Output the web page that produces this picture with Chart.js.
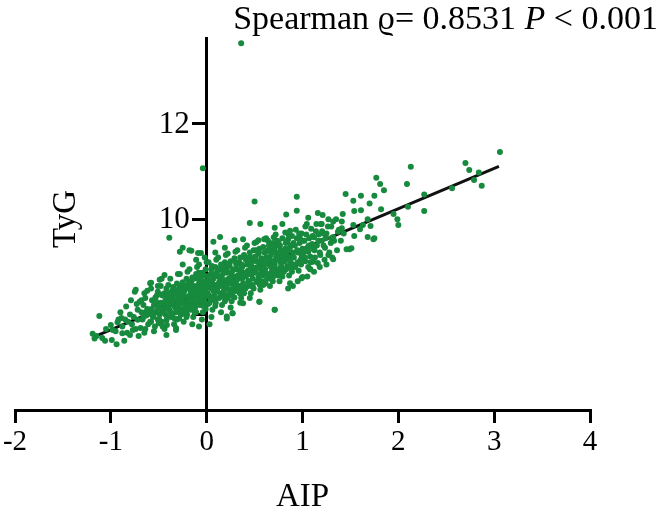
<!DOCTYPE html>
<html><head><meta charset="utf-8">
<script src="https://cdn.jsdelivr.net/npm/chart.js@4"></script>
<style>html,body{margin:0;padding:0;background:#fff}#wrap{width:663px;height:514px}</style>
</head><body><div id="wrap"><canvas id="c" width="663" height="514"></canvas></div>
<script>
const xTickValues = [-2, -1, 0, 1, 2, 3, 4];
const yTickValues = [8, 10, 12];
const yTickLabels = ['', '10', '12'];
const xAxisTitle = 'AIP';
const yAxisTitle = 'TyG';
const statSegments = [['Spearman ', false], ['ϱ', false], ['= 0.8531 ', false], ['P', true], [' < 0.001', false]];
const fitAip = [-1.17, 3.05];
const fitTyg = [7.54, 11.11];
const aipTygPairs = [
[-1.19,7.6],[-1.17,7.5],[-1.15,7.55],[-1.12,7.97],[-1.09,7.51],[-0.99,7.47],[-0.94,7.38],[-0.98,7.68],[-0.93,7.84],[-0.89,7.93],[-0.88,7.61],[-0.84,8.17],[-0.80,7.57],[-0.77,7.68],[-0.75,8.48],[-0.72,7.89],[-0.70,8.27],[-0.65,8.45],[-0.63,8.06],[-0.59,8.66],[-0.58,7.85],[-0.53,8.24],[-0.51,8.48],[-0.49,8.73],[-0.46,7.75],[-0.44,8.83],[-0.42,7.57],[-0.32,7.68],[-0.28,9.32],[-0.25,9.40],[-0.18,9.35],[-0.09,9.29],[-0.39,9.61],[-0.16,9.34],[-0.06,9.29],[-0.74,8.52],[-0.58,8.67],[-0.47,8.75],
[-1.05,7.7],[-1.0,7.78],[-0.95,7.65],[-0.92,7.9],[-1.06,7.45],
[-0.88,7.75],[-0.85,7.9],[-0.83,7.62],[-0.8,8.0],[-0.78,7.8],[-0.76,7.95],[-0.74,7.7],[-0.72,8.1],[-0.71,7.55],[-0.86,7.45],[-0.79,8.3],[-0.73,8.22],[-0.9,8.05],[-0.82,7.85],
[-0.69,7.72],[-0.68,8.05],[-0.67,7.9],[-0.66,8.2],[-0.65,7.62],[-0.64,8.35],[-0.63,7.98],[-0.62,8.12],[-0.61,7.8],[-0.68,8.3],[-0.66,7.95],[-0.62,8.5],[-0.6,8.02],[-0.64,7.7],
[-0.59,7.85],[-0.58,8.1],[-0.57,8.3],[-0.56,7.95],[-0.55,8.2],[-0.54,7.75],[-0.53,8.05],[-0.52,8.4],[-0.51,7.9],[-0.5,8.15],[-0.58,8.55],[-0.55,7.65],[-0.53,8.28],[-0.51,8.6],[-0.57,8.0],[-0.5,7.82],
[-0.49,8.0],[-0.48,8.25],[-0.47,7.85],[-0.46,8.4],[-0.45,8.1],[-0.44,7.7],[-0.43,8.3],[-0.42,8.55],[-0.41,7.95],[-0.4,8.2],[-0.48,8.6],[-0.46,8.05],[-0.44,8.45],[-0.42,7.88],[-0.41,8.35],[-0.47,8.15],[-0.43,8.0],[-0.4,8.62],
[-0.39,8.1],[-0.38,8.35],[-0.37,7.95],[-0.36,8.5],[-0.35,8.2],[-0.34,7.8],[-0.33,8.42],[-0.32,8.05],[-0.31,8.65],[-0.3,8.28],[-0.38,8.75],[-0.36,8.0],[-0.35,8.58],[-0.33,8.15],[-0.31,7.9],[-0.39,8.45],[-0.34,8.3],[-0.3,8.85],[-0.37,8.22],[-0.32,7.72],
[-0.29,8.2],[-0.28,8.45],[-0.27,8.0],[-0.26,8.6],[-0.25,8.3],[-0.24,7.85],[-0.23,8.5],[-0.22,8.15],[-0.21,8.75],[-0.2,8.38],[-0.28,8.85],[-0.26,8.1],[-0.25,8.68],[-0.23,8.25],[-0.21,7.95],[-0.29,8.55],[-0.24,8.4],[-0.2,8.9],[-0.27,8.32],[-0.22,8.05],[-0.25,9.05],
[-0.19,8.3],[-0.18,8.55],[-0.17,8.1],[-0.16,8.7],[-0.15,8.4],[-0.14,7.95],[-0.13,8.6],[-0.12,8.25],[-0.11,8.85],[-0.1,8.48],[-0.18,8.95],[-0.16,8.2],[-0.15,8.78],[-0.13,8.35],[-0.11,8.05],[-0.19,8.65],[-0.14,8.5],[-0.1,9.0],[-0.17,8.42],[-0.12,8.15],[-0.15,7.8],[-0.11,9.15],
[-0.09,8.4],[-0.08,8.65],[-0.07,8.2],[-0.06,8.8],[-0.05,8.5],[-0.04,8.05],[-0.03,8.7],[-0.02,8.35],[-0.01,8.95],[0,8.58],[-0.08,9.05],[-0.06,8.3],[-0.05,8.88],[-0.03,8.45],[-0.01,8.12],[-0.09,8.75],[-0.04,8.6],[0,9.1],[-0.07,8.52],[-0.02,8.25],[-0.05,7.9],[-0.02,9.2],[-0.08,7.75],
[0.01,8.45],[0.02,8.7],[0.03,8.25],[0.04,8.85],[0.05,8.55],[0.06,8.1],[0.07,8.75],[0.08,8.4],[0.09,9.0],[0.1,8.62],[0.02,9.1],[0.04,8.35],[0.05,8.95],[0.07,8.5],[0.09,8.18],[0.01,8.8],[0.06,8.65],[0.1,9.15],[0.03,8.58],[0.08,8.3],[0.05,7.95],[0.09,9.3],[0.03,7.8],
[0.11,8.55],[0.12,8.8],[0.13,8.35],[0.14,8.95],[0.15,8.65],[0.16,8.2],[0.17,8.85],[0.18,8.5],[0.19,9.1],[0.2,8.72],[0.12,9.2],[0.14,8.45],[0.15,9.05],[0.17,8.6],[0.19,8.28],[0.11,8.9],[0.16,8.75],[0.2,9.25],[0.13,8.68],[0.18,8.4],[0.15,8.05],[0.19,9.4],[0.21,7.96],
[0.21,8.62],[0.22,8.88],[0.23,8.42],[0.24,9.02],[0.25,8.72],[0.26,8.28],[0.27,8.92],[0.28,8.58],[0.29,9.18],[0.3,8.8],[0.22,9.28],[0.24,8.52],[0.25,9.12],[0.27,8.68],[0.29,8.36],[0.21,8.98],[0.26,8.82],[0.3,9.32],[0.23,8.75],[0.28,8.48],[0.25,8.15],[0.27,8.03],
[0.31,8.7],[0.32,8.95],[0.33,8.5],[0.34,9.1],[0.35,8.8],[0.36,8.35],[0.37,9.0],[0.38,8.65],[0.39,9.25],[0.4,8.88],[0.32,9.35],[0.34,8.6],[0.35,9.2],[0.37,8.75],[0.39,8.45],[0.31,9.05],[0.36,8.9],[0.4,9.4],[0.33,8.83],[0.38,8.55],[0.35,8.25],
[0.41,8.8],[0.42,9.05],[0.43,8.6],[0.44,9.2],[0.45,8.9],[0.46,8.45],[0.47,9.1],[0.48,8.75],[0.49,9.35],[0.5,8.98],[0.42,9.45],[0.44,8.7],[0.45,9.3],[0.47,8.85],[0.49,8.55],[0.41,9.15],[0.46,9.0],[0.5,9.5],[0.43,8.92],[0.48,8.62],[0.45,8.35],
[0.51,8.88],[0.52,9.12],[0.53,8.68],[0.54,9.28],[0.55,8.98],[0.56,8.52],[0.57,9.18],[0.58,8.82],[0.59,9.42],[0.6,9.05],[0.52,9.52],[0.54,8.78],[0.55,9.38],[0.57,8.92],[0.59,8.62],[0.51,9.22],[0.56,9.08],[0.6,9.58],[0.53,9.0],[0.58,8.7],[0.55,8.27],
[0.61,8.95],[0.62,9.2],[0.63,8.75],[0.64,9.35],[0.65,9.05],[0.66,8.6],[0.67,9.25],[0.68,8.9],[0.69,9.5],[0.7,9.12],[0.62,9.6],[0.64,8.85],[0.65,9.45],[0.67,9.0],[0.69,8.7],[0.61,9.3],[0.66,9.15],[0.7,9.62],[0.63,9.08],[0.68,8.8],[0.71,8.1],
[0.71,9.05],[0.72,9.3],[0.73,8.85],[0.74,9.45],[0.75,9.15],[0.76,8.7],[0.77,9.35],[0.78,9.0],[0.79,9.6],[0.8,9.22],[0.72,9.68],[0.74,8.95],[0.75,9.52],[0.77,9.1],[0.79,8.8],[0.71,9.4],[0.76,9.25],[0.73,9.18],[0.78,8.9],
[0.81,9.12],[0.82,9.38],[0.83,8.95],[0.84,9.52],[0.85,9.22],[0.86,8.82],[0.87,9.42],[0.88,9.08],[0.89,9.65],[0.9,9.3],[0.82,9.72],[0.84,9.02],[0.85,9.58],[0.87,9.18],[0.89,8.9],[0.83,9.28],[0.88,9.45],[0.85,8.55],[0.87,8.66],
[0.91,9.2],[0.92,9.45],[0.93,9.05],[0.94,9.6],[0.95,9.3],[0.96,8.92],[0.97,9.5],[0.98,9.15],[0.99,9.7],[1.0,9.38],[0.93,9.78],[0.95,9.1],[0.97,9.62],[0.99,9.25],[0.95,8.7],[0.9,8.6],[0.99,8.76],
[1.01,9.3],[1.02,9.55],[1.03,9.12],[1.04,9.68],[1.05,9.4],[1.06,9.0],[1.07,9.6],[1.08,9.22],[1.09,9.8],[1.1,9.48],[1.03,9.85],[1.06,9.32],[1.05,8.8],[1.08,8.95],
[1.11,9.38],[1.12,9.62],[1.13,9.2],[1.14,9.75],[1.15,9.45],[1.16,9.08],[1.17,9.68],[1.18,9.3],[1.19,9.9],[1.2,9.55],[1.12,8.9],[1.18,9.0],[1.11,9.11],
[1.22,9.45],[1.25,9.7],[1.27,9.25],[1.3,9.85],[1.33,9.55],[1.36,9.35],[1.38,9.78],[1.24,9.6],[1.35,10.0],[1.25,9.05],
[1.2,9.9],[1.22,9.7],[1.28,9.3],[1.23,9.15],[1.3,9.6],[1.4,9.55],[1.43,9.7],[1.27,10.0],[1.31,9.2],[1.32,9.63],[1.37,9.74],[1.53,9.88],[1.41,9.81],[1.32,9.16],
[0.50,10.37],[0.94,10.47],[0.94,10.18],[0.83,10.10],[1.06,10.03],[1.16,10.13],[0.45,9.92],[0.56,9.90],[0.71,9.82],[0.79,9.90],[0.87,9.76],[0.14,9.63],[0.07,9.53],[0.29,9.56],[0.38,9.58],[0.54,9.56],[0.64,9.55],
[0.21,7.92],[0.38,8.24],[0.55,8.27],[0.27,8.03],[0.71,8.10],[1.0,8.79],[1.08,8.95],
[3.06,11.41],[2.70,11.18],[2.74,11.03],[2.84,10.98],[2.79,10.82],[2.87,10.70],[2.56,10.65],[2.27,10.52],[2.27,10.17],[2.10,10.26],[2.13,11.10],[2.09,10.74],[1.77,10.87],[1.81,10.74],[1.85,10.61],[1.45,10.53],[1.53,10.39],[1.61,10.49],[1.70,10.33],[1.75,10.49],[1.54,10.17],[1.61,10.19],[1.82,10.21],[1.95,10.11],[1.99,10.00],[2.00,9.88],[1.68,10.00],[1.71,9.86],[1.68,9.63],[1.74,9.58],[1.49,9.37],[1.46,9.37],[1.54,9.65],[1.42,10.11],[1.41,9.95],[1.32,9.95],[1.21,10.09],[1.63,9.88],[1.60,9.79],[1.51,9.39],[1.75,9.60],
[0.36,13.69],[-0.04,11.07],
[-0.575,8.12],[-0.555,7.98],[-0.535,8.36],[-0.515,8.1],[-0.495,7.9],[-0.475,8.42],[-0.455,8.22],[-0.435,8.12],[-0.415,7.78],[-0.395,8.28],[-0.375,8.05],[-0.355,8.38],[-0.335,7.92],[-0.315,8.5],[-0.305,8.12],
[-0.295,8.35],[-0.275,8.1],[-0.255,8.48],[-0.235,8.02],[-0.215,8.6],[-0.195,8.2],[-0.175,8.62],[-0.155,8.3],[-0.135,8.75],[-0.115,8.4],[-0.095,8.58],[-0.075,8.3],[-0.055,8.68],[-0.035,8.18],[-0.015,8.5],[-0.285,7.92],[-0.245,8.22],[-0.205,8.0],[-0.165,8.5],[-0.125,8.05],[-0.085,8.88],[-0.045,8.4],[-0.025,8.82],
[0.005,8.65],[0.025,8.4],[0.045,8.72],[0.065,8.35],[0.085,8.85],[0.105,8.5],[0.125,8.95],[0.145,8.6],[0.165,8.38],[0.185,8.92],[0.205,8.55],[0.225,9.05],[0.245,8.65],[0.265,8.4],[0.285,8.95],[0.015,8.22],[0.055,9.02],[0.095,8.25],[0.135,8.78],[0.175,9.02],[0.215,8.35],[0.255,8.88],[0.295,8.6],
[0.305,9.1],[0.325,8.75],[0.345,8.45],[0.365,9.05],[0.385,8.8],[0.405,8.55],[0.425,9.15],[0.445,8.85],[0.465,8.6],[0.485,9.2],[0.505,8.95],[0.525,8.7],[0.545,9.3],[0.565,8.85],[0.585,9.1],[0.315,8.5],[0.355,8.95],[0.395,9.2],[0.435,8.7],[0.475,9.0],[0.515,9.35],[0.555,8.62],[0.595,8.9],
[0.605,9.3],[0.625,8.85],[0.645,9.15],[0.665,8.75],[0.685,9.35],[0.705,8.95],[0.725,9.2],[0.745,8.82],[0.765,9.45],[0.785,9.1],[0.805,8.9],[0.825,9.5],[0.845,9.15],[0.865,9.35],[0.885,8.98],[0.615,8.65],[0.655,9.45],[0.695,8.8],[0.735,9.55],[0.775,9.0],[0.815,9.3],[0.855,9.68],[0.895,9.2],
[0.905,9.5],[0.925,9.0],[0.945,9.35],[0.965,9.7],[0.985,9.05],[1.005,9.55],[1.025,9.2],[1.045,9.9],[1.065,9.45],[1.085,9.1],[1.105,9.65],[1.125,9.35],[1.145,9.9],[1.165,9.55],[1.185,9.25],[1.205,9.75],[1.235,9.4],[1.265,9.85],[1.295,9.5]
];

const FONT = '"Liberation Serif", "Times New Roman", serif';
const textPlugin = {
  id: 'texts',
  beforeDatasetsDraw(chart) {
    const ctx = chart.ctx;
    const ys = chart.scales.y;
    const xs = chart.scales.x;
    const axisX = xs.getPixelForValue(0);
    ctx.save();
    ctx.fillStyle = '#000';
    ctx.font = '31px ' + FONT;
    ctx.textAlign = 'right';
    ctx.textBaseline = 'middle';
    yTickValues.forEach((v, i) => {
      if (yTickLabels[i]) ctx.fillText(yTickLabels[i], axisX - 17, ys.getPixelForValue(v) + 1);
    });
    ctx.restore();
  },
  afterDraw(chart) {
    const ctx = chart.ctx;
    ctx.save();
    ctx.fillStyle = '#000';
    ctx.textBaseline = 'alphabetic';
    let total = 0;
    const widths = statSegments.map(([t, it]) => {
      ctx.font = (it ? 'italic ' : '') + '34px ' + FONT;
      const w = ctx.measureText(t).width; total += w; return w;
    });
    let x = 658 - total;
    statSegments.forEach(([t, it], i) => {
      ctx.font = (it ? 'italic ' : '') + '34px ' + FONT;
      ctx.textAlign = 'left';
      ctx.fillText(t, x, 29);
      x += widths[i];
    });
    ctx.font = '33px ' + FONT;
    ctx.textAlign = 'center';
    const xs = chart.scales.x;
    ctx.fillText(xAxisTitle, (xs.left + xs.right) / 2, 506);
    ctx.translate(75, 219);
    ctx.rotate(-Math.PI / 2);
    ctx.fillText(yAxisTitle, 0, 0);
    ctx.restore();
  }
};

new Chart(document.getElementById('c'), {
  type: 'scatter',
  data: {
    datasets: [
      {
        type: 'scatter',
        data: aipTygPairs.map(([a, t]) => ({x: a, y: t})),
        backgroundColor: '#178a3e',
        borderWidth: 0,
        pointRadius: 3,
        order: 0
      },
      {
        type: 'line',
        data: fitAip.map((a, i) => ({x: a, y: fitTyg[i]})),
        borderColor: '#111',
        borderWidth: 3,
        pointRadius: 0,
        fill: false,
        order: 1
      }
    ]
  },
  options: {
    responsive: false,
    animation: false,
    devicePixelRatio: 1,
    layout: {padding: {left: 15, right: 73, top: 38, bottom: 0}},
    plugins: {legend: {display: false}, tooltip: {enabled: false}, title: {display: false}},
    scales: {
      x: {
        type: 'linear', min: -2, max: 4,
        afterBuildTicks(s) { s.ticks = xTickValues.map(v => ({value: v})); },
        afterFit(s) { s.height = 104; },
        grid: {drawOnChartArea: false, drawTicks: true, tickLength: 13, lineWidth: 3, color: '#000'},
        border: {display: true, width: 3, color: '#000'},
        ticks: {color: '#000', font: {family: FONT, size: 29}, padding: 2, maxRotation: 0, autoSkip: false}
      },
      y: {
        type: 'linear', min: 6, max: 13.8,
        position: {x: 0},
        afterBuildTicks(s) { s.ticks = yTickValues.map(v => ({value: v})); },
        grid: {drawOnChartArea: false, drawTicks: true, tickLength: 13, lineWidth: 3, color: '#000'},
        border: {display: true, width: 3, color: '#000'},
        ticks: {display: false}
      }
    }
  },
  plugins: [textPlugin]
});
</script></body></html>
